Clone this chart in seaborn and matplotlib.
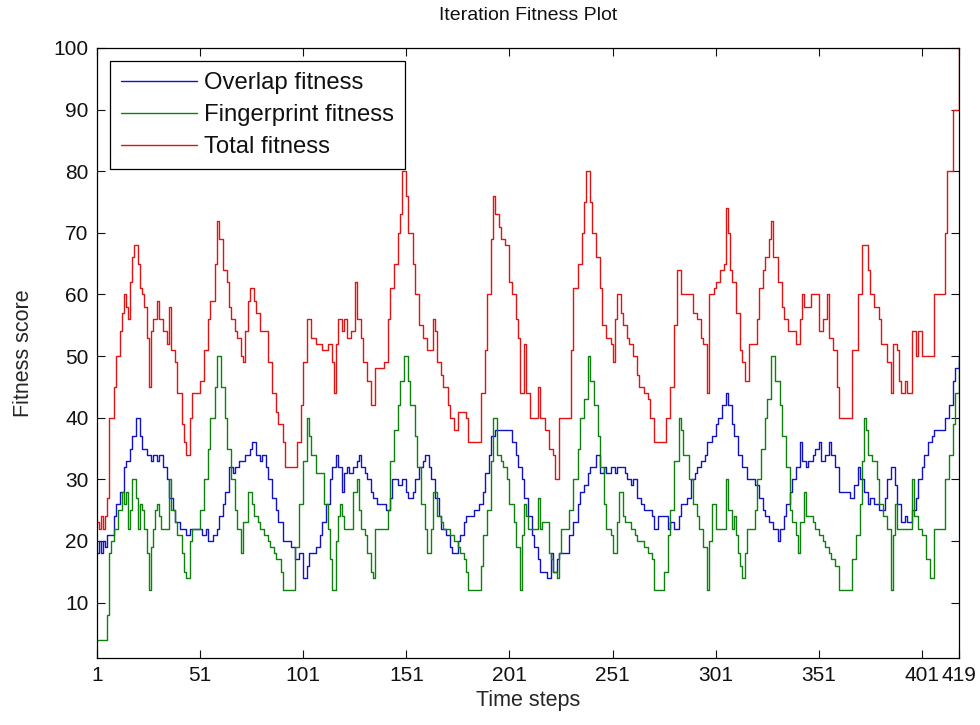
import matplotlib
matplotlib.use("Agg")
import matplotlib.pyplot as plt
import seaborn as sns
import pandas as pd

# ---------------- data ----------------
series_names = ["Overlap fitness", "Fingerprint fitness", "Total fitness"]

overlap_t = [1, 2, 3, 4, 5, 6, 9, 10, 12, 14, 15, 17, 18, 20, 22, 23, 25, 27, 28, 30, 31, 33, 35, 36, 38, 39, 41, 44, 46, 52, 54, 55, 57, 59, 60, 62, 63, 65, 67, 68, 70, 73, 75, 76, 78, 80, 81, 83, 84, 86, 88, 89, 91, 95, 97, 99, 101, 103, 104,
             106, 107, 109, 110, 112, 114, 115, 117, 118, 120, 121, 122, 123, 125, 127, 128, 129, 131, 132, 134, 135, 137, 141, 143, 144, 147, 149, 151, 152, 154, 155, 157, 159, 160, 162, 163, 165, 167, 168, 170, 172, 173, 176, 177, 179, 180, 184, 186, 188, 189, 191, 192, 194, 202, 204, 205, 207, 208, 210,
             212, 213, 215, 216, 219, 221, 222, 224, 225, 230, 232, 234, 235, 237, 239, 240, 243, 245, 247, 248, 250, 252, 253, 257, 258, 260, 261, 263, 265, 266, 270, 271, 273, 278, 279, 281, 283, 284, 287, 289, 291, 292, 294, 296, 297, 299, 301, 302, 304, 306, 307, 309, 310, 312, 314,
             316, 320, 322, 324, 325, 327, 329, 331, 332, 334, 335, 337, 338, 340, 342, 343, 345, 346, 348, 349, 351, 352, 354, 356, 357, 359, 361, 366, 368, 370, 371, 373, 375, 376, 378, 380, 383, 384, 386, 388, 389, 391, 393, 394, 396, 398, 399, 401, 402, 404, 406, 407, 412, 414, 416, 417, 419]
overlap_v = [18, 20, 18, 20, 19, 21, 24, 26, 28, 32, 33, 35, 37, 40, 37, 35, 34, 33, 34, 33, 34, 32, 30, 27, 25, 23, 22, 21, 22, 21, 22, 20, 21, 22, 24, 26, 28, 32, 31, 32, 33, 34, 35, 36, 34, 33, 34, 32, 30, 27, 25, 23, 20, 19, 17, 18, 14, 16, 18,
             18, 19, 21, 23, 26, 30, 32, 34, 32, 28, 31, 32, 31, 32, 33, 34, 32, 31, 30, 28, 27, 26, 25, 27, 30, 29, 30, 28, 27, 28, 30, 32, 33, 34, 32, 30, 27, 24, 22, 21, 19, 18, 20, 21, 23, 24, 25, 26, 28, 31, 34, 37, 38, 36, 34, 32, 30, 27, 24,
             21, 19, 17, 15, 14, 18, 15, 17, 18, 21, 23, 26, 28, 29, 31, 32, 34, 31, 32, 31, 32, 31, 32, 31, 30, 29, 30, 27, 26, 25, 24, 22, 24, 22, 23, 22, 24, 26, 27, 30, 31, 32, 33, 34, 36, 37, 39, 40, 42, 44, 42, 39, 37, 34, 32,
             30, 29, 27, 25, 24, 23, 22, 20, 22, 24, 26, 28, 30, 32, 36, 33, 32, 33, 34, 35, 36, 33, 34, 36, 34, 32, 28, 27, 29, 32, 30, 28, 26, 27, 26, 25, 27, 30, 32, 29, 26, 23, 24, 23, 25, 27, 30, 32, 34, 36, 37, 38, 40, 42, 46, 48, 50]

fingerprint_t = [1, 6, 7, 8, 9, 11, 13, 14, 15, 16, 17, 18, 20, 21, 22, 23, 24, 25, 26, 27, 28, 29, 30, 31, 32, 36, 37, 39, 40, 42, 43, 44, 46, 47, 51, 53, 55, 56, 58, 59, 61, 63, 64, 66, 68, 69, 71, 72, 74, 76, 77, 79, 80, 82, 84, 85, 87, 88, 90, 91, 96, 97, 99, 101, 103, 104, 105, 107,
                 111, 113, 114, 115, 117, 118, 119, 120, 121, 125, 127, 128, 129, 131, 132, 134, 135, 136, 142, 143, 145, 147, 148, 150, 152, 153, 155, 156, 158, 160, 161, 163, 164, 166, 168, 169, 172, 174, 176, 177, 179, 180, 181, 187, 188, 190, 192, 193, 195, 197, 198, 200, 201, 203, 204, 206,
                 207, 208, 209, 210, 215, 216, 217, 220, 221, 222, 224, 225, 226, 230, 232, 234, 235, 237, 239, 240, 242, 244, 245, 247, 248, 250, 251, 253, 254, 256, 257, 260, 262, 263, 266, 268, 270, 271, 276, 278, 279, 281, 283, 284, 285, 288, 290, 292, 293, 295, 297, 298, 299, 301,
                 306, 307, 309, 310, 311, 312, 313, 314, 315, 316, 320, 321, 323, 325, 326, 328, 330, 332, 333, 335, 337, 338, 340, 341, 342, 344, 345, 348, 349, 351, 353, 354, 356, 357, 359, 361, 367, 369, 371, 372, 373, 374, 375, 377, 379, 380, 382, 384, 386, 387, 388, 389, 396, 397,
                 399, 401, 403, 405, 407, 412, 414, 416, 417, 419]
fingerprint_v = [4, 8, 18, 20, 22, 25, 28, 26, 28, 22, 25, 30, 27, 22, 26, 25, 22, 18, 12, 19, 22, 25, 26, 24, 22, 30, 25, 23, 21, 18, 15, 14, 20, 22, 25, 30, 35, 40, 45, 50, 45, 40, 35, 30, 25, 22, 18, 23, 28, 26, 24, 23, 22, 21, 20, 19, 18, 17, 15, 12, 12, 19, 26, 33, 40, 37, 34, 31,
                 26, 22, 17, 12, 20, 24, 26, 24, 22, 28, 30, 25, 22, 21, 18, 15, 14, 22, 25, 33, 38, 42, 46, 50, 46, 42, 37, 32, 26, 22, 18, 22, 28, 24, 23, 22, 21, 20, 19, 18, 17, 15, 12, 16, 21, 25, 33, 40, 34, 33, 32, 30, 26, 23, 19, 12,
                 21, 26, 24, 22, 27, 22, 23, 18, 17, 15, 14, 18, 22, 25, 30, 35, 40, 43, 50, 46, 42, 37, 32, 26, 22, 21, 18, 23, 28, 24, 23, 22, 21, 20, 19, 18, 17, 12, 15, 21, 25, 33, 40, 38, 34, 30, 26, 24, 22, 19, 12, 20, 26, 22,
                 30, 25, 22, 24, 21, 18, 16, 14, 18, 22, 25, 30, 35, 40, 43, 50, 46, 42, 37, 32, 25, 23, 21, 18, 23, 28, 24, 23, 22, 21, 20, 19, 18, 17, 16, 12, 17, 21, 26, 33, 40, 38, 34, 33, 30, 26, 24, 22, 12, 21, 26, 22, 30, 24,
                 22, 21, 17, 14, 22, 30, 34, 39, 44, 49]

total_t = [1, 2, 3, 4, 5, 6, 7, 9, 10, 12, 13, 14, 15, 16, 17, 18, 19, 21, 22, 23, 24, 25, 26, 27, 28, 30, 31, 33, 35, 36, 37, 39, 40, 42, 43, 44, 46, 47, 51, 53, 55, 56, 58, 59, 60, 62, 64, 65, 66, 68, 69, 71, 72, 73, 74, 75, 77, 78, 80, 84, 86, 88, 89, 91, 92, 98, 100, 101, 103, 105, 107,
           110, 113, 115, 116, 117, 118, 120, 121, 122, 124, 126, 127, 129, 130, 132, 134, 136, 140, 142, 143, 145, 147, 148, 149, 151, 152, 154, 155, 157, 159, 161, 164, 165, 166, 168, 169, 171, 172, 174, 176, 180, 181, 187, 189, 190, 192, 193, 194, 196, 197, 199, 201, 202, 204, 205, 206, 208, 209,
           211, 215, 216, 218, 220, 222, 223, 225, 231, 232, 234, 236, 237, 238, 240, 241, 243, 245, 246, 248, 250, 251, 252, 253, 255, 256, 258, 259, 261, 263, 264, 266, 268, 269, 271, 277, 279, 281, 282, 284, 290, 292, 294, 295, 297, 298, 300, 301, 303, 305, 306, 307, 308, 309, 311,
           313, 314, 315, 317, 321, 322, 324, 325, 327, 328, 329, 331, 333, 334, 336, 340, 342, 343, 344, 347, 351, 353, 355, 356, 358, 360, 361, 367, 370, 372, 375, 376, 378, 380, 381, 384, 386, 387, 389, 390, 391, 393, 394, 396, 398, 399, 401, 407, 412, 413, 416, 419]
total_v = [23, 22, 24, 22, 24, 27, 40, 45, 50, 54, 57, 60, 58, 56, 62, 66, 68, 65, 61, 60, 58, 53, 45, 54, 56, 59, 56, 54, 52, 58, 51, 49, 44, 39, 36, 34, 40, 44, 46, 51, 56, 59, 65, 72, 69, 64, 62, 58, 56, 54, 53, 50, 49, 54, 59, 61, 59, 57, 54, 49, 44, 41, 39, 36, 32, 36, 42, 49, 56, 53, 52,
           51, 52, 49, 44, 52, 56, 54, 56, 53, 54, 62, 56, 53, 49, 46, 42, 48, 49, 56, 61, 65, 70, 73, 80, 76, 70, 65, 60, 55, 53, 51, 56, 54, 49, 47, 45, 42, 40, 38, 41, 40, 36, 44, 51, 60, 69, 76, 73, 71, 69, 68, 62, 60, 56, 53, 44, 52, 44,
           40, 45, 40, 38, 35, 34, 30, 40, 51, 61, 65, 70, 75, 80, 75, 70, 66, 61, 55, 53, 52, 49, 56, 60, 57, 55, 53, 52, 50, 47, 45, 44, 43, 40, 36, 40, 45, 55, 64, 60, 57, 56, 53, 52, 44, 60, 61, 62, 64, 65, 74, 70, 64, 62, 57,
           51, 49, 46, 52, 56, 61, 64, 66, 69, 72, 66, 62, 58, 56, 54, 52, 56, 60, 58, 60, 54, 56, 60, 53, 51, 45, 40, 51, 60, 68, 64, 60, 58, 56, 52, 49, 44, 52, 51, 46, 44, 46, 44, 54, 50, 54, 50, 60, 70, 80, 90, 100]

x_ticks = [1, 51, 101, 151, 201, 251, 301, 351, 401, 419]
y_ticks = [10, 20, 30, 40, 50, 60, 70, 80, 90, 100]
line_colors = ["#1212c8", "#0c820c", "#e01414"]

# ---------------- build long table ----------------
frames = []
for name, tt, vv in zip(series_names,
                        [overlap_t, fingerprint_t, total_t],
                        [overlap_v, fingerprint_v, total_v]):
    frames.append(pd.DataFrame({"t": tt, "v": vv, "series": name}))
df = pd.concat(frames, ignore_index=True)

# ---------------- style ----------------
sns.set_theme(style="ticks")
plt.rcParams["font.family"] = ["Liberation Sans", "DejaVu Sans"]
plt.rcParams["axes.linewidth"] = 0.9
plt.rcParams["text.color"] = "#111111"

fig = plt.figure(figsize=(9.8, 7.25), dpi=100)
ax = fig.add_axes([0.099, 0.0924, 0.8796, 0.8414])

sns.lineplot(data=df, x="t", y="v", hue="series", hue_order=series_names,
             palette=dict(zip(series_names, line_colors)),
             estimator=None, sort=True, drawstyle="steps-post",
             linewidth=1.0, ax=ax)

ax.set_xlim(1, 419)
ax.set_ylim(1, 100)
ax.set_xticks(x_ticks)
ax.set_xticklabels([str(v) for v in x_ticks])
ax.set_yticks(y_ticks)
ax.set_yticklabels([str(v) for v in y_ticks])
ax.tick_params(direction="in", top=True, right=True, length=6, width=0.8,
               labelsize=15, colors="#111111", pad=6)
for sp in ax.spines.values():
    sp.set_visible(True)
    sp.set_color("black")

ax.set_xlabel("Time steps", fontsize=15.5, labelpad=3)
ax.set_ylabel("Fitness score", fontsize=15.5, labelpad=14)
ax.set_title("Iteration Fitness Plot", fontsize=14, pad=20)

handles, labels = ax.get_legend_handles_labels()
leg = ax.legend(handles, labels, loc="upper left", fontsize=17.2,
                frameon=True, fancybox=False, shadow=False,
                edgecolor="black", framealpha=1.0,
                handlelength=3.2, handletextpad=0.28, labelspacing=0.42,
                borderpad=0.45, borderaxespad=0.55)
leg.get_frame().set_linewidth(0.9)
for h in leg.get_lines():
    h.set_linewidth(1.0)

fig.savefig("out.png", dpi=100)
